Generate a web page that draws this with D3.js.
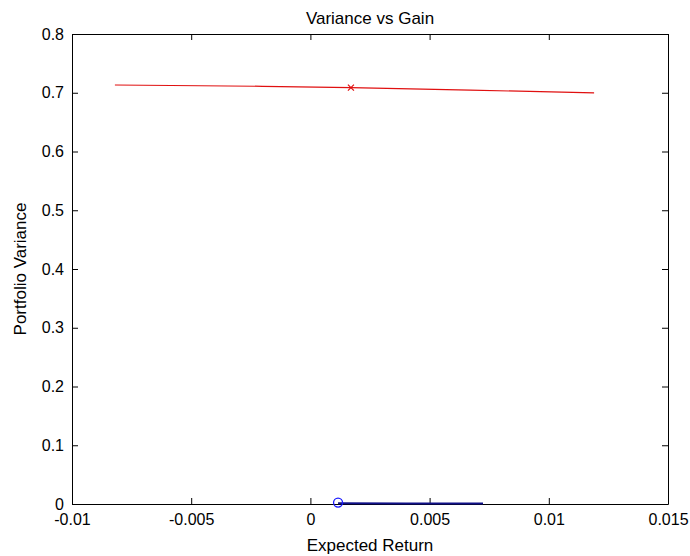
<!DOCTYPE html>
<html>
<head>
<meta charset="utf-8">
<script src="https://cdn.jsdelivr.net/npm/d3@7"></script>
<style>
  body { margin: 0; background: #fff; }
  text { font-family: "Liberation Sans", Arial, sans-serif; fill: #000; }
</style>
</head>
<body>
<div id="chart"></div>
<script>
// values
const xTicks = [-0.01, -0.005, 0, 0.005, 0.01, 0.015];
const xTickLabels = ["-0.01", "-0.005", "0", "0.005", "0.01", "0.015"];
const yTicks = [0, 0.1, 0.2, 0.3, 0.4, 0.5, 0.6, 0.7, 0.8];
const yTickLabels = ["0", "0.1", "0.2", "0.3", "0.4", "0.5", "0.6", "0.7", "0.8"];

// red curve (nearly flat)
const redReturn = [-0.0082, -0.0020, 0.0017, 0.0067, 0.0119];
const redVariance = [0.7132, 0.7110, 0.7087, 0.7045, 0.6997];
const redMarker = [0.0017, 0.7087];

// blue curve sitting on the bottom axis
const blueReturn = [0.00116, 0.0040, 0.00724];
const blueVariance = [0.0012, 0.0010, 0.0009];
const blueMarker = [0.00116, 0.0025];

const width = 690, height = 556;
const margin = {top: 34, right: 22, bottom: 52, left: 72};

const svg = d3.select("#chart").append("svg")
    .attr("width", width)
    .attr("height", height);

const x = d3.scaleLinear()
    .domain([-0.01, 0.015])
    .range([margin.left, width - margin.right]);

const y = d3.scaleLinear()
    .domain([0, 0.8])
    .range([height - margin.bottom, margin.top]);

const tickLen = 6;

// bottom + top axes, ticks pointing inwards like matlab
const xb = svg.append("g")
    .attr("transform", `translate(0,${y(0)})`)
    .call(d3.axisBottom(x).tickValues(xTicks).tickSizeInner(-tickLen).tickSizeOuter(0)
        .tickPadding(10).tickFormat((d, i) => xTickLabels[i]));
svg.append("g")
    .attr("transform", `translate(0,${y(0.8)})`)
    .call(d3.axisTop(x).tickValues(xTicks).tickSizeInner(-tickLen).tickSizeOuter(0)
        .tickFormat(""));

const yl = svg.append("g")
    .attr("transform", `translate(${x(-0.01)},0)`)
    .call(d3.axisLeft(y).tickValues(yTicks).tickSizeInner(-tickLen).tickSizeOuter(0)
        .tickPadding(8).tickFormat((d, i) => yTickLabels[i]));
svg.append("g")
    .attr("transform", `translate(${x(0.015)},0)`)
    .call(d3.axisRight(y).tickValues(yTicks).tickSizeInner(-tickLen).tickSizeOuter(0)
        .tickFormat(""));

svg.selectAll(".domain").attr("stroke", "#000");
svg.selectAll(".tick line").attr("stroke", "#000");
svg.selectAll(".tick text").attr("font-size", "16px").attr("fill", "#000");

// red line
const redPts = redReturn.map((d, i) => [d, redVariance[i]]);
const bluePts = blueReturn.map((d, i) => [d, blueVariance[i]]);

const line = d3.line()
    .x(d => x(d[0]))
    .y(d => y(d[1]));

svg.append("path")
    .datum(redPts)
    .attr("fill", "none")
    .attr("stroke", "#e01010")
    .attr("stroke-width", 1.2)
    .attr("d", line);

// x marker
const mx = x(redMarker[0]), my = y(redMarker[1]);
svg.append("path")
    .attr("d", `M${mx - 3},${my - 3}L${mx + 3},${my + 3}M${mx - 3},${my + 3}L${mx + 3},${my - 3}`)
    .attr("stroke", "#e01010")
    .attr("stroke-width", 1.2);

svg.append("path")
    .datum(bluePts)
    .attr("fill", "none")
    .attr("stroke", "#101088")
    .attr("stroke-width", 2)
    .attr("d", line);

svg.append("circle")
    .attr("cx", x(blueMarker[0]))
    .attr("cy", y(blueMarker[1]))
    .attr("r", 4.5)
    .attr("fill", "none")
    .attr("stroke", "#1a1aff")
    .attr("stroke-width", 1.3);

// titles
svg.append("text")
    .attr("x", (x(-0.01) + x(0.015)) / 2)
    .attr("y", 24)
    .attr("text-anchor", "middle")
    .attr("font-size", "17px")
    .text("Variance vs Gain");

svg.append("text")
    .attr("x", (x(-0.01) + x(0.015)) / 2)
    .attr("y", 551)
    .attr("text-anchor", "middle")
    .attr("font-size", "17px")
    .text("Expected Return");

svg.append("text")
    .attr("transform", `translate(26,${(y(0) + y(0.8)) / 2}) rotate(-90)`)
    .attr("text-anchor", "middle")
    .attr("font-size", "17px")
    .text("Portfolio Variance");
</script>
</body>
</html>
